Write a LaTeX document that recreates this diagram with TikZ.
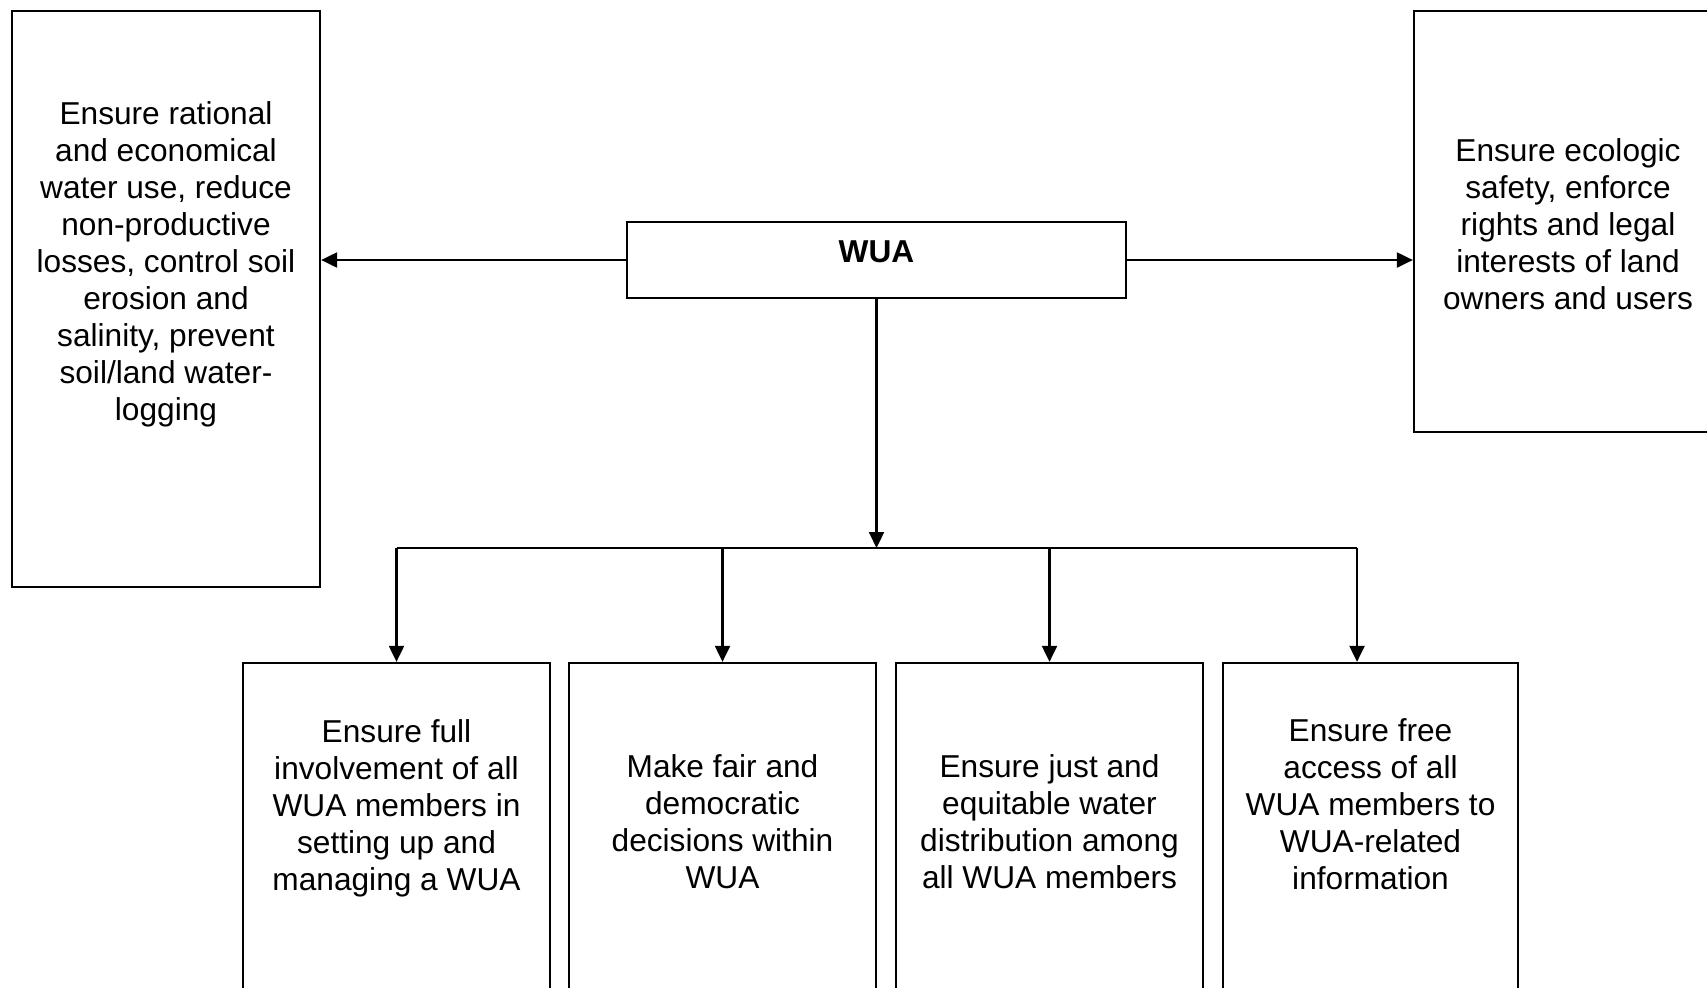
\documentclass[tikz,border=0pt]{standalone}
\usepackage{fontspec}
\setmainfont{Liberation Sans}
\usetikzlibrary{arrows.meta}
\tikzset{%
    goalbox/.style={%
        rectangle, draw=black, line width=0.6pt, inner sep=0pt
    },
    goaltxt/.style={%
        align=center, inner sep=0pt, font=\fontsize{9}{10.5}\selectfont
    },
    flow/.style={%
        line width=0.6pt, -{Triangle[length=1.6mm,width=1.5mm]}
    },
    bar/.style={%
        line width=0.6pt
    },
}

\begin{document}
\begin{tikzpicture}[x=0.01cm, y=-0.01cm]
      \useasboundingbox (0,0) rectangle (1707,987);
      \clip (0,0) rectangle (1707,987);

      % side boxes and the WUA box
      \node[goalbox, minimum width=3.08cm, minimum height=5.76cm] (lbox) at (166,299) {};
      \node[goaltxt] (ltxt) at (166,264.5) {Ensure rational\\and economical\\water use, reduce\\non-productive\\losses, control soil\\erosion and\\salinity, prevent\\soil/land water-\\logging};
      \node[goalbox, minimum width=3.08cm, minimum height=4.21cm] (rbox) at (1568,221.5) {};
      \node[goaltxt] (rtxt) at (1568,224) {Ensure ecologic\\safety, enforce\\rights and legal\\interests of land\\owners and users};
      \node[goalbox, minimum width=4.99cm, minimum height=0.76cm] (wua) at (876.5,260) {};
      \node[goaltxt, font=\fontsize{9}{10.5}\selectfont\bfseries] (wuatxt) at (876.5,252) {WUA};

      % bottom boxes
      \node[goalbox, minimum width=3.07cm, minimum height=3.37cm] (g1) at (396.5,831.5) {};
      \node[goalbox, minimum width=3.07cm, minimum height=3.37cm] (g2) at (722.5,831.5) {};
      \node[goalbox, minimum width=3.07cm, minimum height=3.37cm] (g3) at (1049.5,831.5) {};
      \node[goalbox, minimum width=2.95cm, minimum height=3.37cm] (g4) at (1370.5,831.5) {};
      \node[goaltxt] (t1) at (396.5,808) {Ensure full\\involvement of all\\WUA members in\\setting up and\\managing a WUA};
      \node[goaltxt] (t2) at (722.5,822) {Make fair and\\democratic\\decisions within\\WUA};
      \node[goaltxt] (t3) at (1049.5,822) {Ensure just and\\equitable water\\distribution among\\all WUA members};
      \node[goaltxt] (t4) at (1370.5,804) {Ensure free\\access of all\\WUA members to\\WUA-related\\information};

      % connectors
      \draw[flow] (wua.west) -- (wua.west -| lbox.east);
      \draw[flow] (wua.east) -- (wua.east -| rbox.west);
      \coordinate (split) at (876.5,548);
      \draw[flow] (wua.south) -- (split);
      \coordinate (d1) at (396.5,548);
      \coordinate (d2) at (722.5,548);
      \coordinate (d3) at (1049.5,548);
      \coordinate (d4) at (1357,548);
      \draw[bar] (d1) -- (d4);
      \draw[flow] (d1) -- (d1 |- g1.north);
      \draw[flow] (d2) -- (d2 |- g2.north);
      \draw[flow] (d3) -- (d3 |- g3.north);
      \draw[flow] (d4) -- (d4 |- g4.north);
    \end{tikzpicture}
\end{document}
